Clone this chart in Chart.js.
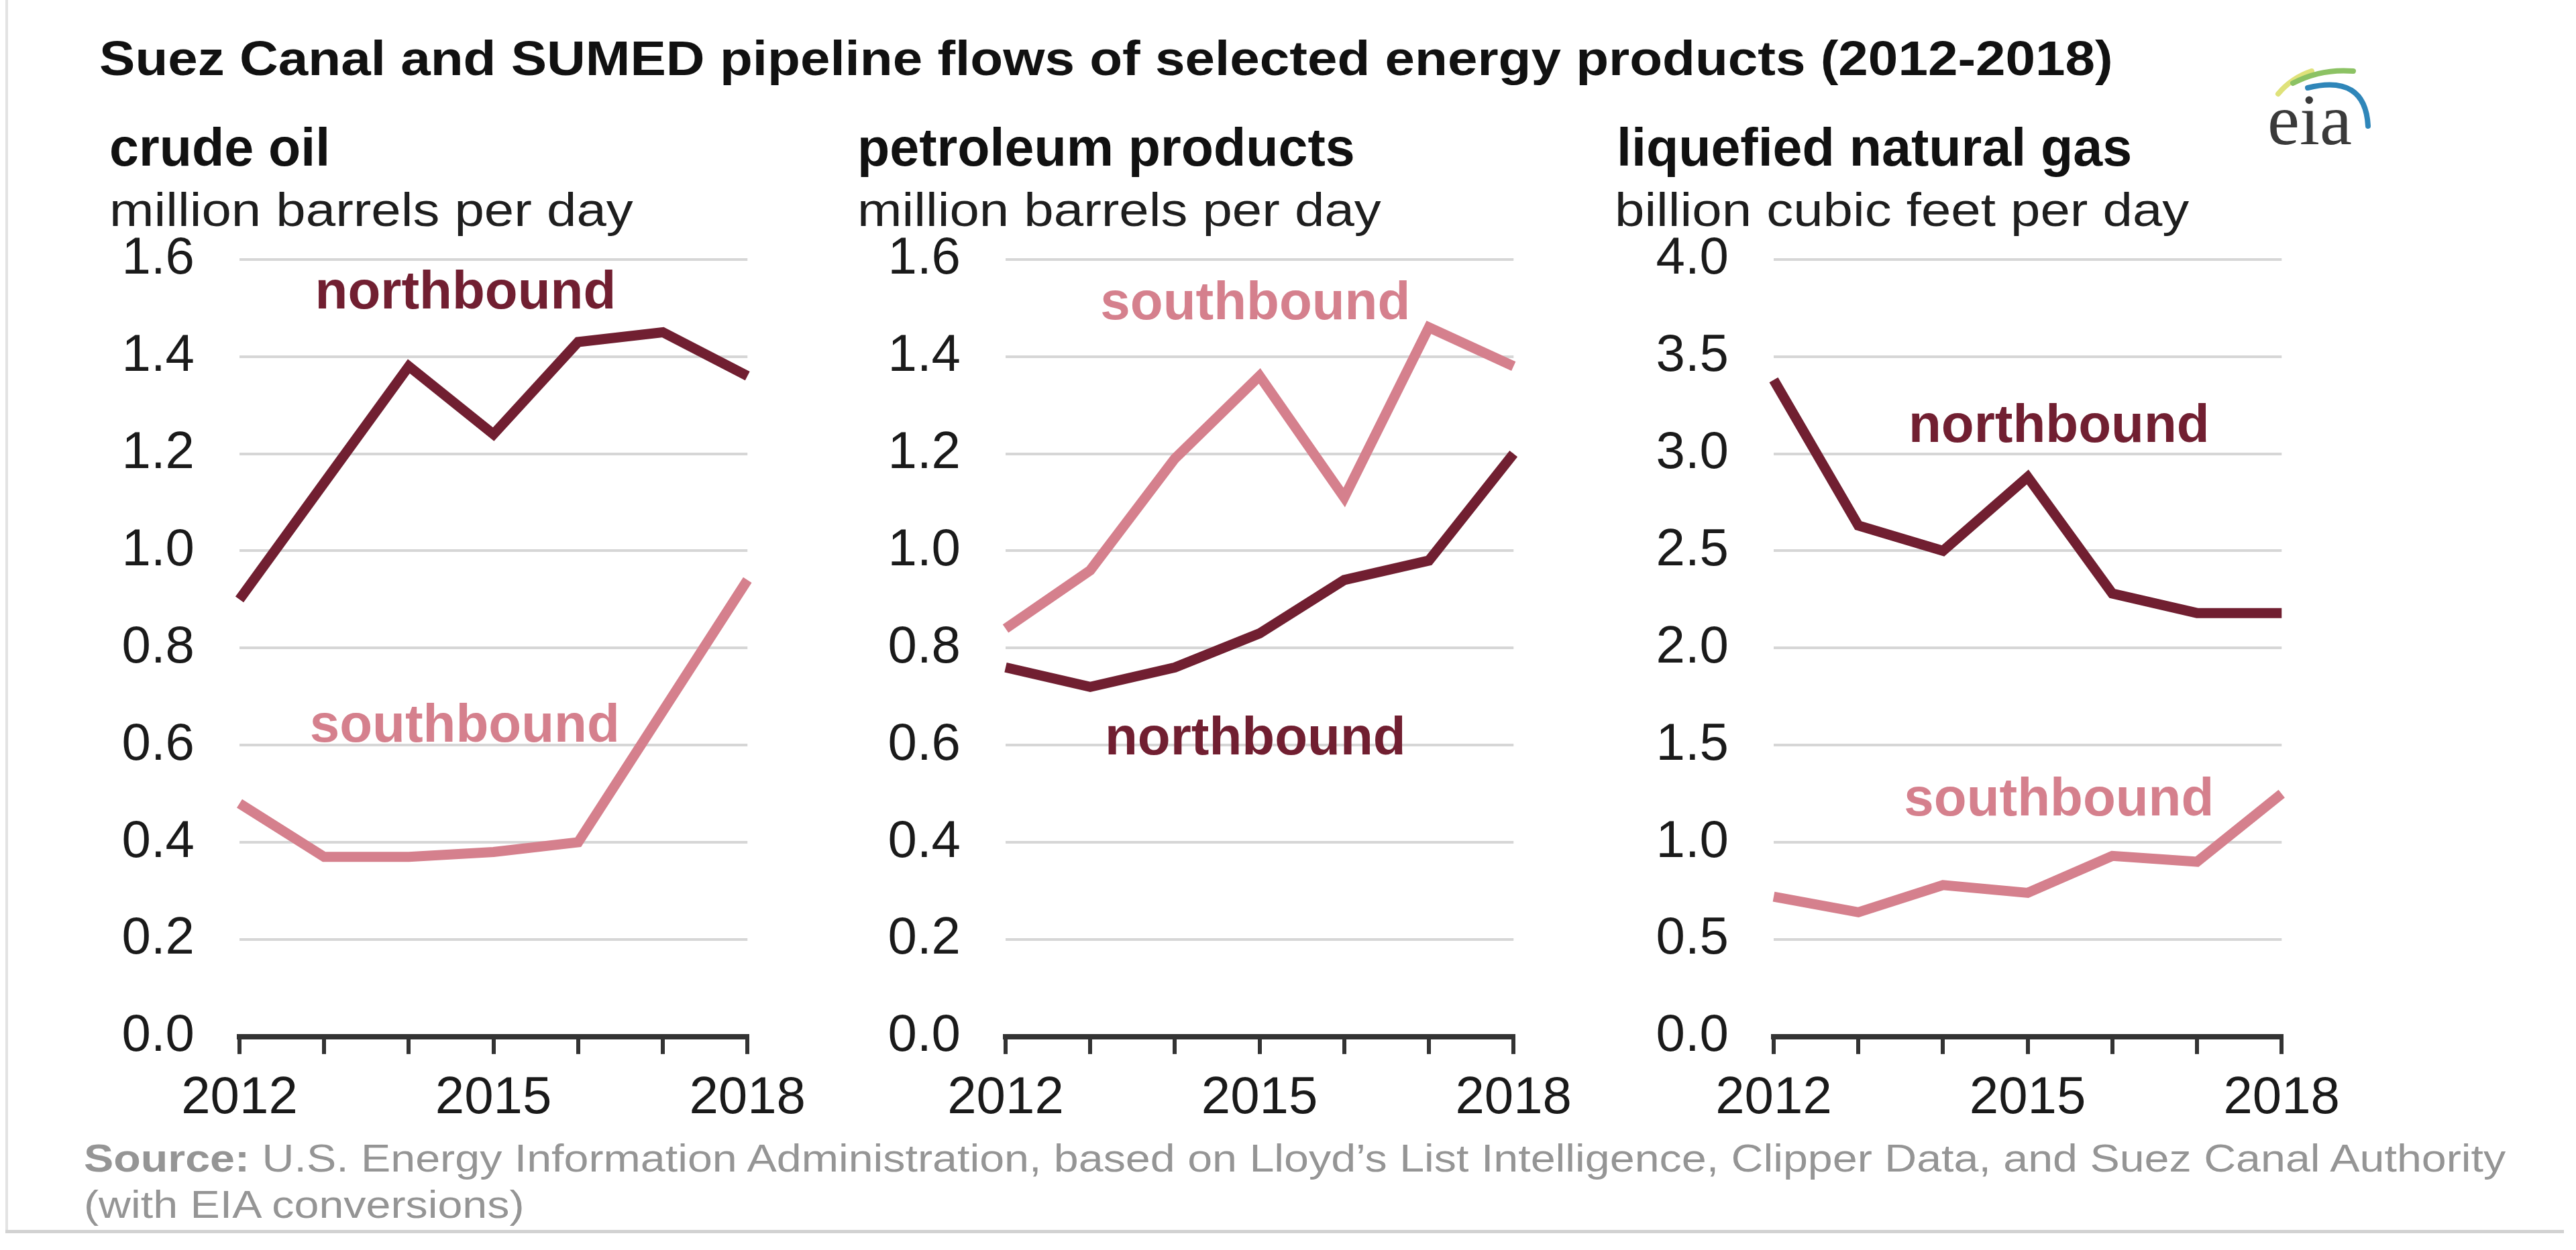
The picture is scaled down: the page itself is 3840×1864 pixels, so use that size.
<!DOCTYPE html>
<html><head><meta charset="utf-8">
<script src="https://cdn.jsdelivr.net/npm/chart.js@4.4.1/dist/chart.umd.min.js"></script>
<style>
html,body{margin:0;padding:0;background:#fff;}
body{width:3840px;height:1864px;position:relative;overflow:hidden;font-family:'Liberation Sans',Arial,sans-serif;}
.abs{position:absolute;white-space:nowrap;line-height:1;transform-origin:0 0;}
.head{font-size:79px;font-weight:bold;color:#111;}
.sub{font-size:70px;color:#1e1e1e;}
canvas{position:absolute;top:300px;}
</style></head><body>
<div style="position:absolute;left:8px;top:0;width:4px;height:1838px;background:#e3e3e3"></div>
<div style="position:absolute;left:8px;top:1834px;width:3814px;height:5px;background:#d2d2d2"></div>

<div id="title" class="abs" style="left:148px;top:51px;font-size:72px;font-weight:bold;color:#111">Suez Canal and SUMED pipeline flows of selected energy products (2012-2018)</div>

<div class="abs head" style="left:163px;top:180px">crude oil</div>
<div class="abs sub" id="sub1" style="left:163px;top:278px">million barrels per day</div>
<div class="abs head" style="left:1278px;top:180px">petroleum products</div>
<div class="abs sub" id="sub2" style="left:1278px;top:278px">million barrels per day</div>
<div class="abs head" style="left:2410px;top:180px">liquefied natural gas</div>
<div class="abs sub" id="sub3" style="left:2407px;top:278px">billion cubic feet per day</div>

<svg style="position:absolute;left:3360px;top:80px" width="200" height="150" viewBox="3360 80 200 150">
  <path d="M3396 140 Q3416 116 3446 106" stroke="#dfe27a" stroke-width="8" fill="none" stroke-linecap="round"/>
  <path d="M3418 124 Q3460 102 3508 106" stroke="#8cc264" stroke-width="8" fill="none" stroke-linecap="round"/>
  <path d="M3440 131 Q3526 110 3530 188" stroke="#2f86b9" stroke-width="8" fill="none" stroke-linecap="round"/>
  <text x="3380" y="215" font-family="Liberation Serif, DejaVu Serif, serif" font-size="108" fill="#3a3a3a">eia</text>
</svg>

<canvas id="c1" width="1124" height="1450" style="left:97px"></canvas>
<canvas id="c2" width="1124" height="1450" style="left:1239px"></canvas>
<canvas id="c3" width="1124" height="1450" style="left:2384px"></canvas>

<div id="src1" class="abs" style="left:125px;top:1698px;font-size:58px;color:#959595"><b>Source:</b> U.S. Energy Information Administration, based on Lloyd’s List Intelligence, Clipper Data, and Suez Canal Authority</div>
<div id="src2" class="abs" style="left:125px;top:1767px;font-size:58px;color:#959595">(with EIA conversions)</div>

<script>
// ---------- data ----------
const years = ['2012','2013','2014','2015','2016','2017','2018'];
const xTickLabels = ['2012','2015','2018'];

const crudeNorth    = [0.90, 1.14, 1.38, 1.24, 1.43, 1.45, 1.36];
const crudeSouth    = [0.48, 0.37, 0.37, 0.38, 0.40, 0.67, 0.94];
const productsNorth = [0.76, 0.72, 0.76, 0.83, 0.94, 0.98, 1.20];
const productsSouth = [0.84, 0.96, 1.19, 1.36, 1.11, 1.46, 1.38];
const lngNorth      = [3.38, 2.63, 2.50, 2.88, 2.28, 2.18, 2.18];
const lngSouth      = [0.72, 0.64, 0.78, 0.74, 0.93, 0.90, 1.25];

const oilAxisMax = 1.6, oilAxisStep = 0.2;
const lngAxisMax = 4.0, lngAxisStep = 0.5;

// ---------- styles ----------
const NORTH = '#711f31';
const SOUTH = '#d5808d';
const FONT = "'Liberation Sans', Arial, sans-serif";
Chart.defaults.font.family = FONT;

function fitWidth(id, target) {
  const el = document.getElementById(id);
  const s = target / el.offsetWidth;
  el.style.transform = 'scaleX(' + s + ')';
  return s;
}
fitWidth('title', 3002);
const subScale = fitWidth('sub1', 781);
['sub2','sub3'].forEach(id => document.getElementById(id).style.transform = 'scaleX(' + subScale + ')');
const srcScale = fitWidth('src1', 3610);
document.getElementById('src2').style.transform = 'scaleX(' + srcScale + ')';

const seriesLabels = {
  id: 'seriesLabels',
  afterDatasetsDraw(chart, args, opts) {
    const {ctx, scales: {x, y}} = chart;
    ctx.save();
    ctx.font = 'bold 80px ' + FONT;
    ctx.textAlign = 'center';
    ctx.textBaseline = 'middle';
    (opts.items || []).forEach(it => {
      ctx.fillStyle = it.color;
      ctx.fillText(it.text, x.getPixelForValue(it.x), y.getPixelForValue(it.y));
    });
    ctx.restore();
  }
};

// page position of the plot box (top gridline and zero axis)
const PLOT_TOP = 387, PLOT_BOTTOM = 1546;

function makeChart(id, north, south, max, step, labelItems) {
  const canvas = document.getElementById(id);
  const state = {xh: 150};
  const chart = new Chart(canvas, {
    type: 'line',
    data: {
      labels: years,
      datasets: [
        {label: 'northbound', data: north, borderColor: NORTH, borderWidth: 15, pointRadius: 0, tension: 0, borderJoinStyle: 'miter', fill: false},
        {label: 'southbound', data: south, borderColor: SOUTH, borderWidth: 15, pointRadius: 0, tension: 0, borderJoinStyle: 'miter', fill: false}
      ]
    },
    options: {
      responsive: false,
      animation: false,
      events: [],
      layout: {padding: {top: 60, right: 100, left: 0, bottom: 0}},
      plugins: {
        legend: {display: false},
        tooltip: {enabled: false},
        seriesLabels: {items: labelItems}
      },
      scales: {
        x: {
          afterFit: s => { s.height = state.xh; },
          grid: {display: true, drawOnChartArea: false, drawTicks: true, tickLength: 26, tickWidth: 6, lineWidth: 6, tickColor: '#333'},
          border: {display: true, color: '#333', width: 8},
          ticks: {
            autoSkip: false, maxRotation: 0, padding: 20,
            font: {size: 78}, color: '#1a1a1a',
            callback: (v, i) => xTickLabels.includes(years[i]) ? years[i] : ''
          }
        },
        y: {
          min: 0, max: max,
          afterFit: s => { s.width = 260; },
          grid: {drawTicks: false, lineWidth: 4, color: c => (c.tick && c.tick.value === 0) ? 'rgba(0,0,0,0)' : '#d6d6d6'},
          border: {display: false},
          ticks: {stepSize: step, padding: 67, font: {size: 78}, color: '#1a1a1a', callback: v => Number(v).toFixed(1)}
        }
      }
    },
    plugins: [seriesLabels]
  });
  // place the canvas so its plot box lands where the reference has it
  for (let k = 0; k < 2; k++) {
    const ca = chart.chartArea;
    canvas.style.top = (PLOT_TOP - ca.top) + 'px';
    state.xh += (ca.bottom - ca.top) - (PLOT_BOTTOM - PLOT_TOP);
    chart.update();
  }
  canvas.style.top = (PLOT_TOP - chart.chartArea.top) + 'px';
  return chart;
}

makeChart('c1', crudeNorth, crudeSouth, oilAxisMax, oilAxisStep, [
  {text: 'northbound', x: 2.67, y: 1.53, color: NORTH},
  {text: 'southbound', x: 2.66, y: 0.637, color: SOUTH}
]);
makeChart('c2', productsNorth, productsSouth, oilAxisMax, oilAxisStep, [
  {text: 'southbound', x: 2.95, y: 1.508, color: SOUTH},
  {text: 'northbound', x: 2.95, y: 0.611, color: NORTH}
]);
makeChart('c3', lngNorth, lngSouth, lngAxisMax, lngAxisStep, [
  {text: 'northbound', x: 3.37, y: 3.135, color: NORTH},
  {text: 'southbound', x: 3.37, y: 1.214, color: SOUTH}
]);
</script>
</body></html>
